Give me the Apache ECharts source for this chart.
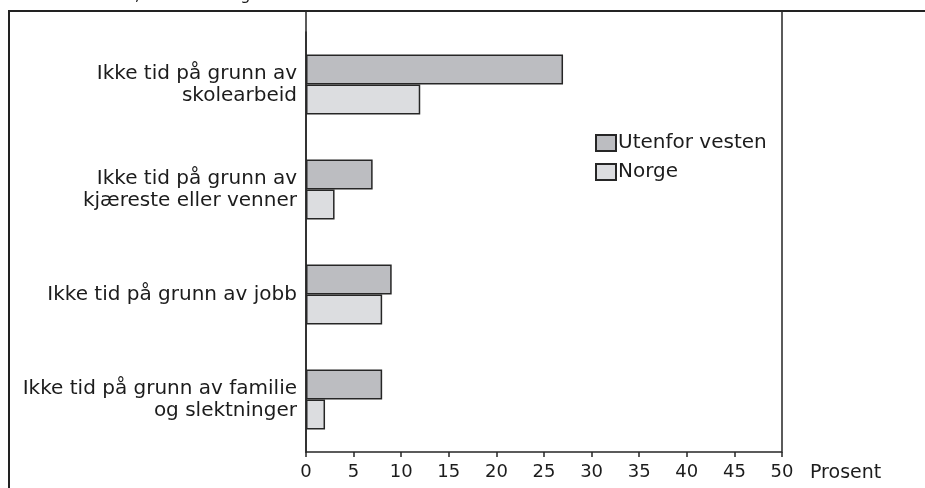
<!DOCTYPE html>
<html>
<head>
<meta charset="utf-8">
<script src="https://cdn.jsdelivr.net/npm/echarts@6/dist/echarts.min.js"></script>
<style>
  html, body { margin: 0; padding: 0; background: #fff; }
  #chart { width: 925px; height: 488px; }
</style>
</head>
<body>
<div id="chart"></div>
<script>
// kategorier (topp til bunn)
var categories = [
  'Ikke tid på grunn av\nskolearbeid',
  'Ikke tid på grunn av\nkjæreste eller venner',
  'Ikke tid på grunn av jobb',
  'Ikke tid på grunn av familie\nog slektninger'
];
var utenforVesten = [27, 7, 9, 8];
var norge = [12, 3, 8, 2];
var xTicks = [0, 50, 5]; // min, max, interval

var font = 'DejaVu Sans';
var edge = '#262626';
var ink = '#1c1c1c';

var chart = echarts.init(document.getElementById('chart'));

var option = {
  animation: false,
  textStyle: { fontFamily: font },
  grid: { left: 306, right: 143, top: 32, bottom: 36 },
  legend: {
    orient: 'vertical',
    left: 590,
    top: 128,
    itemWidth: 20,
    itemHeight: 16,
    itemGap: 9,
    icon: 'rect',
    textStyle: { fontFamily: font, fontSize: 20, color: ink, padding: [0, 0, 0, -3] },
    data: ['Utenfor vesten', 'Norge']
  },
  xAxis: {
    type: 'value',
    min: xTicks[0],
    max: xTicks[1],
    interval: xTicks[2],
    name: 'Prosent',
    nameLocation: 'end',
    nameGap: 28,
    nameTextStyle: { fontSize: 19, color: ink, verticalAlign: 'top', padding: [12, 0, 0, 0] },
    splitLine: { show: false },
    axisLine: { lineStyle: { color: edge, width: 1.5 } },
    axisTick: { show: true, length: 5, lineStyle: { color: edge, width: 1.5 } },
    axisLabel: { fontSize: 18, color: ink, margin: 11 }
  },
  yAxis: {
    type: 'category',
    inverse: true,
    data: categories,
    axisLine: { lineStyle: { color: edge, width: 1.5 } },
    axisTick: { show: false },
    axisLabel: { fontSize: 20, color: ink, margin: 9, lineHeight: 22, align: 'right' }
  },
  series: [
    {
      name: 'Utenfor vesten',
      type: 'bar',
      data: utenforVesten,
      barWidth: 30,
      barGap: '0%',
      itemStyle: { color: '#bcbdc1', borderColor: edge, borderWidth: 1.5 }
    },
    {
      name: 'Norge',
      type: 'bar',
      data: norge,
      barWidth: 30,
      barGap: '0%',
      itemStyle: { color: '#dcdde0', borderColor: edge, borderWidth: 1.5 }
    }
  ],
  graphic: [
    {
      type: 'text',
      left: 4,
      top: -12,
      style: { text: 'Fritidsaktiviteter, Kilde: Friberg 2005.', font: '16px "DejaVu Sans"', fill: ink }
    },
    {
      type: 'rect',
      shape: { x: 9, y: 11, width: 1000, height: 600 },
      style: { fill: 'none', stroke: '#222', lineWidth: 2 },
      silent: true
    },
    {
      type: 'rect',
      shape: { x: 306, y: 11, width: 476, height: 441 },
      style: { fill: 'none', stroke: edge, lineWidth: 1.5 },
      silent: true
    }
  ]
};

chart.setOption(option);
</script>
</body>
</html>
